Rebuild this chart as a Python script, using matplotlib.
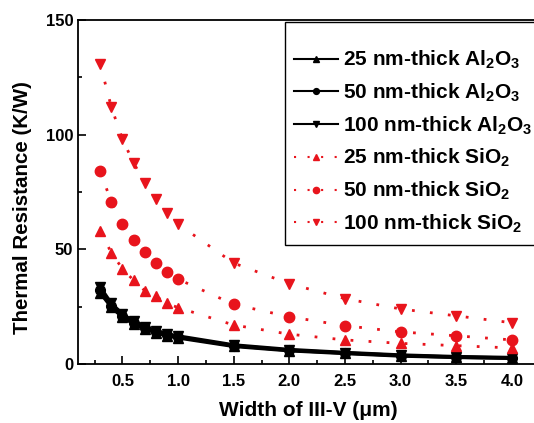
import matplotlib
matplotlib.use("Agg")
import matplotlib.pyplot as plt
from matplotlib.ticker import MultipleLocator
from matplotlib.patches import Rectangle

plt.rcParams['font.family'] = ['Liberation Sans', 'DejaVu Sans']
plt.rcParams['font.weight'] = 'bold'

# widths of the III-V stripe (um)
width = [0.3, 0.4, 0.5, 0.6, 0.7, 0.8, 0.9, 1.0, 1.5, 2.0, 2.5, 3.0, 3.5, 4.0]

# thermal resistance (K/W)
al2o3_25 = [31.0, 24.8, 20.4, 17.5, 15.3, 13.6, 12.3, 11.4, 7.7, 5.8, 4.6, 3.5, 2.9, 2.5]
al2o3_50 = [32.2, 25.5, 21.0, 18.0, 15.8, 14.0, 12.7, 11.8, 8.0, 6.0, 4.8, 3.7, 3.0, 2.6]
al2o3_100 = [33.5, 26.4, 21.8, 18.6, 16.3, 14.5, 13.1, 12.2, 8.3, 6.3, 5.0, 3.9, 3.2, 2.8]
sio2_25 = [58.0, 48.5, 41.5, 36.5, 32.0, 29.5, 26.4, 24.6, 17.0, 13.0, 10.5, 9.0, 8.0, 7.0]
sio2_50 = [84.0, 70.6, 61.0, 54.0, 48.7, 44.0, 40.0, 37.0, 26.0, 20.6, 16.7, 14.0, 12.3, 10.5]
sio2_100 = [130.7, 112.0, 98.0, 87.7, 79.0, 72.0, 66.0, 61.0, 44.0, 35.0, 28.5, 24.0, 21.0, 18.0]

labels = [
    r'25 nm-thick $\mathregular{Al_2O_3}$',
    r'50 nm-thick $\mathregular{Al_2O_3}$',
    r'100 nm-thick $\mathregular{Al_2O_3}$',
    r'25 nm-thick $\mathregular{SiO_2}$',
    r'50 nm-thick $\mathregular{SiO_2}$',
    r'100 nm-thick $\mathregular{SiO_2}$',
]

fig = plt.figure(figsize=(5.34, 4.23), dpi=100)
ax = fig.add_axes([78 / 534, 59 / 423, 1 - 78 / 534, 344 / 423])

red = '#e8141c'
dots = (0, (1, 5.5))

ax.plot(width, al2o3_25, color='black', lw=2.5, marker='^', ms=7, label=labels[0])
ax.plot(width, al2o3_50, color='black', lw=2.5, marker='o', ms=7, label=labels[1])
ax.plot(width, al2o3_100, color='black', lw=2.5, marker='v', ms=7, label=labels[2])
ax.plot(width, sio2_25, color=red, lw=2, ls=dots, marker='^', ms=7.5, mec=red, label=labels[3])
ax.plot(width, sio2_50, color=red, lw=2, ls=dots, marker='o', ms=7.5, mec=red, label=labels[4])
ax.plot(width, sio2_100, color=red, lw=2, ls=dots, marker='v', ms=7.5, mec=red, label=labels[5])

ax.set_xlim(0.1, 4.2)
ax.set_ylim(0, 150)
ax.xaxis.set_major_locator(MultipleLocator(0.5))
ax.xaxis.set_minor_locator(MultipleLocator(0.25))
ax.yaxis.set_major_locator(MultipleLocator(50))
ax.yaxis.set_minor_locator(MultipleLocator(25))
ax.tick_params(which='both', direction='in', labelsize=12, width=1.2)
ax.tick_params(which='major', length=6)
ax.tick_params(which='minor', length=3)
ax.tick_params(axis='x', pad=7)
ax.set_xticks([0.5, 1.0, 1.5, 2.0, 2.5, 3.0, 3.5, 4.0])
ax.spines['right'].set_visible(False)
for s in ['left', 'bottom', 'top']:
    ax.spines[s].set_linewidth(1.3)

ax.set_xlabel('Width of III-V (μm)', fontsize=15, fontweight='bold')
ax.set_ylabel('Thermal Resistance (K/W)', fontsize=14.8, fontweight='bold')
ax.xaxis.set_label_coords(0.505, -0.108)
ax.yaxis.set_label_coords(-0.1, 0.455)

# legend box, drawn separately so it can run off the right edge like the original
box = Rectangle((285 / 534, 1 - 245 / 423), 0.6, 223 / 423,
                transform=fig.transFigure, facecolor='white',
                edgecolor='black', lw=1.0, zorder=4, clip_on=False)
ax.add_patch(box)
leg = ax.legend(loc='upper left', bbox_to_anchor=(294 / 534, 1 - 49 / 423),
                bbox_transform=fig.transFigure, fontsize=15, frameon=False,
                handlelength=2.1, markerscale=0.6, labelspacing=0.5,
                borderpad=0, handletextpad=0.25, borderaxespad=0)
leg.set_zorder(5)
for h in leg.get_lines():
    h.set_linewidth(1.5)

fig.savefig('out.png', dpi=100)
